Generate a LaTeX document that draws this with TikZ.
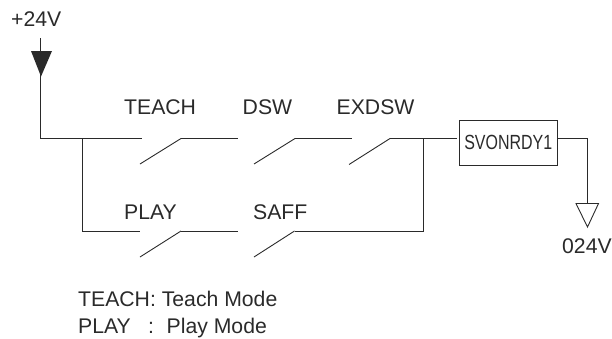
\documentclass[tikz,border=0pt]{standalone}
\usepackage{fontspec}
\setmainfont{Liberation Sans}
\definecolor{ink}{HTML}{2A2A2A}
\tikzset{
  wire/.style={draw=ink,line width=1pt},
  blade/.style={draw=ink,line width=0.9pt},
  lbl/.style={text=ink,font=\fontsize{21.2}{24}\selectfont,inner sep=0pt,anchor=base west},
}
\begin{document}
\begin{tikzpicture}[x=1pt,y=-1pt]
\useasboundingbox (0,0) rectangle (612,338);
% labels
\node[lbl] (vin) at (11,26) {+24V};
\node[lbl] (lteach) at (124,114) {TEACH};
\node[lbl] (ldsw) at (242.5,114) {DSW};
\node[lbl] (lexdsw) at (336.5,114) {EXDSW};
\node[lbl] (lplay) at (124,219) {PLAY};
\node[lbl] (lsaff) at (253,219) {SAFF};
\node[lbl] (lgnd) at (562,253) {024V};
\node[lbl] (n1) at (78,306.5) {TEACH: Teach Mode};
\node[lbl] (n2) at (78,333) {PLAY};
\node[lbl] (n3) at (148,333) {:};
\node[lbl] (n4) at (166.5,333) {Play Mode};
% relay
\node[draw=ink,line width=1pt,minimum width=98.5pt,minimum height=45pt,inner sep=0pt,anchor=north west,
      font=\fontsize{20.5}{24}\selectfont,text=ink] (relay) at (458.5,119.5) {\scalebox{0.78}[1]{SVONRDY1}};
% junction coordinates
\coordinate (top) at (40.5,38);
\coordinate (bus) at (40.5,138.5);
\coordinate (br) at (82.5,138.5);
\coordinate (brlow) at (82.5,231);
\coordinate (a1) at (142,138.5);
\coordinate (t1) at (140,164);
\coordinate (t2) at (181,138.5);
\coordinate (t3) at (238,138.5);
\coordinate (d1) at (254,164);
\coordinate (d2) at (295,138.5);
\coordinate (d3) at (352,138.5);
\coordinate (e1) at (349,164.5);
\coordinate (e2) at (390,138.5);
\coordinate (j) at (423.5,138.5);
\coordinate (jlow) at (423.5,231);
\coordinate (rin) at (457,138.5);
\coordinate (p0) at (140,231);
\coordinate (p1) at (140,257);
\coordinate (p2) at (181,231);
\coordinate (p3) at (238,231);
\coordinate (s1) at (254,257);
\coordinate (s2) at (294.5,231);
\coordinate (rout) at (558,138.5);
\coordinate (out) at (587.5,138.5);
\coordinate (gtop) at (587.5,203);
% supply
\draw[wire] (top) -- (bus) -- (a1);
\fill[ink] (31,51) -- (52,51) -- (41,76.5) -- cycle;
\draw[wire] (br) -- (brlow) -- (p0);
% switches
\draw[blade] (t1) -- (t2);
\draw[wire] (t2) -- (t3);
\draw[blade] (d1) -- (d2);
\draw[wire] (d2) -- (d3);
\draw[blade] (e1) -- (e2);
\draw[wire] (e2) -- (rin);
\draw[blade] (p1) -- (p2);
\draw[wire] (p2) -- (p3);
\draw[blade] (s1) -- (s2);
\draw[wire] (s2) -- (jlow) -- (j);
\draw[wire] (rout) -- (out) -- (gtop);
\draw[draw=ink,line width=0.9pt,line join=miter] (576,203.5) -- (598.5,203.5) -- (587.5,227) -- cycle;
\end{tikzpicture}
\end{document}
